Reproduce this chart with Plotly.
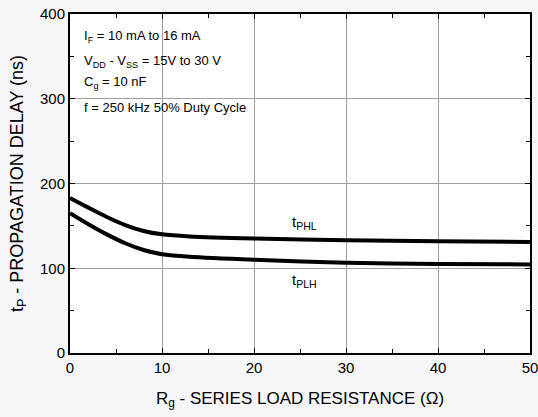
import plotly.graph_objects as go

rg = [0, 2, 4, 6, 8, 10, 13, 20, 30, 40, 50]
t_phl = [183, 171.5, 160.5, 151, 144, 140, 137.5, 135, 133, 132, 131]
t_plh = [165, 152, 140, 129.5, 121.5, 116.5, 113.5, 110, 106.5, 105, 104.5]

notes = ["I<sub>F</sub> = 10 mA to 16 mA",
         "V<sub>DD</sub> - V<sub>SS</sub> = 15V to 30 V",
         "C<sub>g</sub> = 10 nF",
         "f = 250 kHz 50% Duty Cycle"]
notes_y = [373, 344, 319, 290]

font = "Liberation Sans, Arial, sans-serif"

fig = go.Figure()
for ys in (t_phl, t_plh):
    fig.add_trace(go.Scatter(x=rg, y=ys, mode="lines",
                             line=dict(color="black", width=4, shape="spline", smoothing=0.8),
                             showlegend=False, hoverinfo="skip"))

for t, yv in zip(notes, notes_y):
    fig.add_annotation(x=1.3, y=yv, xref="x", yref="y", text=t, showarrow=False, xanchor="left",
                       font=dict(family=font, size=13, color="black"))
fig.add_annotation(x=25.5, y=154, text="t<sub>PHL</sub>", showarrow=False, font=dict(family=font, size=15, color="black"))
fig.add_annotation(x=25.5, y=85, text="t<sub>PLH</sub>", showarrow=False, font=dict(family=font, size=15, color="black"))

axis_common = dict(showline=True, linecolor="black", linewidth=2, mirror="ticks",
                   ticks="inside", ticklen=5, tickcolor="black", automargin=False,
                   ticklabeloverflow="allow",
                   gridcolor="#a0a0a0", gridwidth=1, zeroline=False,
                   tickfont=dict(family=font, size=15, color="black"))
fig.update_xaxes(range=[0, 50], dtick=10, tick0=0,
                 minor=dict(dtick=5, ticks="inside", ticklen=4, tickcolor="black", showgrid=False),
                 title=dict(text="R<sub>g</sub> - SERIES LOAD RESISTANCE (\u03a9)",
                            font=dict(family=font, size=17, color="black"), standoff=17),
                 **axis_common)
fig.update_yaxes(range=[0, 400], dtick=100, tick0=0,
                 minor=dict(dtick=50, ticks="inside", ticklen=4, tickcolor="black", showgrid=False),
                 title=dict(text="t<sub>P</sub> - PROPAGATION DELAY (ns)",
                            font=dict(family=font, size=18, color="black"), standoff=12),
                 **axis_common)
fig.update_layout(width=538, height=417, margin=dict(l=70, r=8, t=14, b=64),
                  paper_bgcolor="#f6f5f8", plot_bgcolor="white")
fig.write_html("out.html", config={"displayModeBar": False},
               post_script="document.body.style.margin='0';document.body.style.background='#f6f5f8';")
